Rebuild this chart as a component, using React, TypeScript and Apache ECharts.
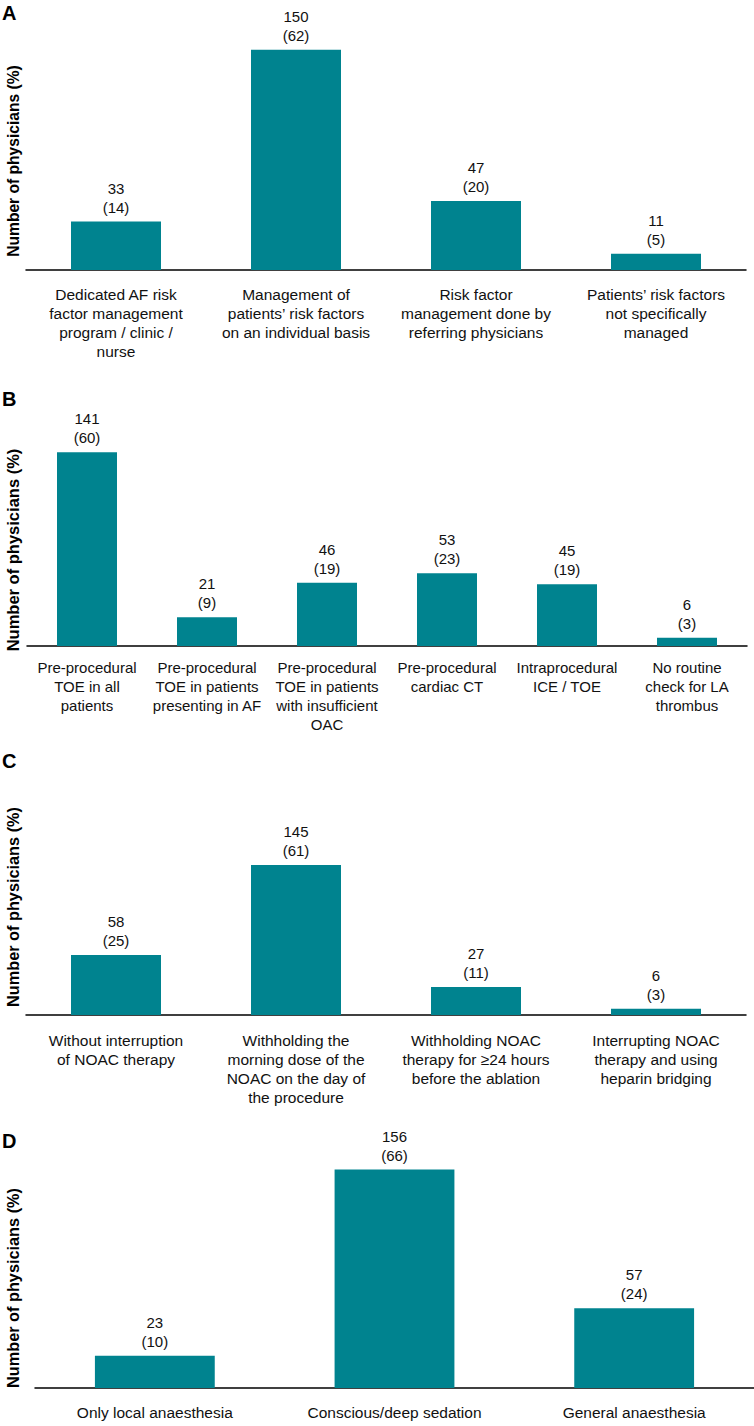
import React, { useEffect, useRef } from "react";
import * as echarts from "echarts";

const catsA = [
  "Dedicated AF risk\nfactor management\nprogram / clinic /\nnurse",
  "Management of\npatients’ risk factors\non an individual basis",
  "Risk factor\nmanagement done by\nreferring physicians",
  "Patients’ risk factors\nnot specifically\nmanaged",
];
const countsA = [33, 150, 47, 11];
const pctA = [14, 62, 20, 5];

const catsB = [
  "Pre-procedural\nTOE in all\npatients",
  "Pre-procedural\nTOE in patients\npresenting in AF",
  "Pre-procedural\nTOE in patients\nwith insufficient\nOAC",
  "Pre-procedural\ncardiac CT",
  "Intraprocedural\nICE / TOE",
  "No routine\ncheck for LA\nthrombus",
];
const countsB = [141, 21, 46, 53, 45, 6];
const pctB = [60, 9, 19, 23, 19, 3];

const catsC = [
  "Without interruption\nof NOAC therapy",
  "Withholding the\nmorning dose of the\nNOAC on the day of\nthe procedure",
  "Withholding NOAC\ntherapy for ≥24 hours\nbefore the ablation",
  "Interrupting NOAC\ntherapy and using\nheparin bridging",
];
const countsC = [58, 145, 27, 6];
const pctC = [25, 61, 11, 3];

const catsD = ["Only local anaesthesia", "Conscious/deep sedation", "General anaesthesia"];
const countsD = [23, 156, 57];
const pctD = [10, 66, 24];

const panelLetters = ["A", "B", "C", "D"];
const yTitle = "Number of physicians (%)";

const FONT = '"Liberation Sans", Arial, Helvetica, sans-serif';
const BAR = "#00838F";
const TXT = "#111";

const panels = [
  { cats: catsA, counts: countsA, pct: pctA, top: 35, height: 235, left: 26, width: 720, max: 160, margin: 15, letterY: 14, titleY: 161, titleSize: 15.6, labelSize: 15.5 },
  { cats: catsB, counts: countsB, pct: pctB, top: 440, height: 206, left: 27, width: 720, max: 150, margin: 12, letterY: 400, titleY: 550, titleSize: 16.5, labelSize: 15 },
  { cats: catsC, counts: countsC, pct: pctC, top: 808, height: 207, left: 26, width: 720, max: 200, margin: 16, letterY: 762, titleY: 907, titleSize: 16.3, labelSize: 15.5 },
  { cats: catsD, counts: countsD, pct: pctD, top: 1150, height: 238, left: 35, width: 723, max: 170, margin: 15, letterY: 1142, titleY: 1288, titleSize: 16.3, labelSize: 15.5 },
];

export default function App() {
  const ref = useRef<HTMLDivElement>(null);
  useEffect(() => {
    if (!ref.current) return;
    const chart = echarts.init(ref.current, null, { renderer: "svg" });
    const graphics: any[] = [];
    panels.forEach((p, i) => {
      graphics.push({
        type: "text",
        left: 2,
        top: p.letterY - 11,
        style: { text: panelLetters[i], font: `bold 20px ${FONT}`, fill: "#000" },
      });
      graphics.push({
        type: "text",
        x: 13,
        y: p.titleY,
        rotation: Math.PI / 2,
        style: {
          text: yTitle,
          font: `bold ${p.titleSize}px ${FONT}`,
          fill: "#000",
          align: "center",
          verticalAlign: "middle",
        },
      });
    });
    chart.setOption({
      animation: false,
      backgroundColor: "#fff",
      grid: panels.map((p) => ({ left: p.left, top: p.top, width: p.width, height: p.height, containLabel: false })),
      xAxis: panels.map((p, i) => ({
        type: "category",
        gridIndex: i,
        data: p.cats,
        axisTick: { show: false },
        axisLine: { lineStyle: { color: "#000", width: 1.5 } },
        axisLabel: {
          interval: 0,
          fontSize: p.labelSize,
          lineHeight: 19,
          color: TXT,
          fontFamily: FONT,
          margin: p.margin,
        },
      })),
      yAxis: panels.map((p, i) => ({
        type: "value",
        gridIndex: i,
        min: 0,
        max: p.max,
        show: false,
      })),
      series: panels.map((p, i) => ({
        type: "bar",
        xAxisIndex: i,
        yAxisIndex: i,
        barWidth: "50%",
        data: p.counts,
        itemStyle: { color: BAR },
        label: {
          show: true,
          position: "top",
          distance: 5,
          fontSize: 15,
          lineHeight: 19,
          color: TXT,
          fontFamily: FONT,
          formatter: (d: any) => `${p.counts[d.dataIndex]}\n(${p.pct[d.dataIndex]})`,
        },
      })),
      graphic: graphics,
    });
    return () => chart.dispose();
  }, []);
  return (
    <div
      ref={ref}
      style={{ position: "absolute", left: 0, top: 0, width: 754, height: 1426, background: "#fff" }}
    />
  );
}
